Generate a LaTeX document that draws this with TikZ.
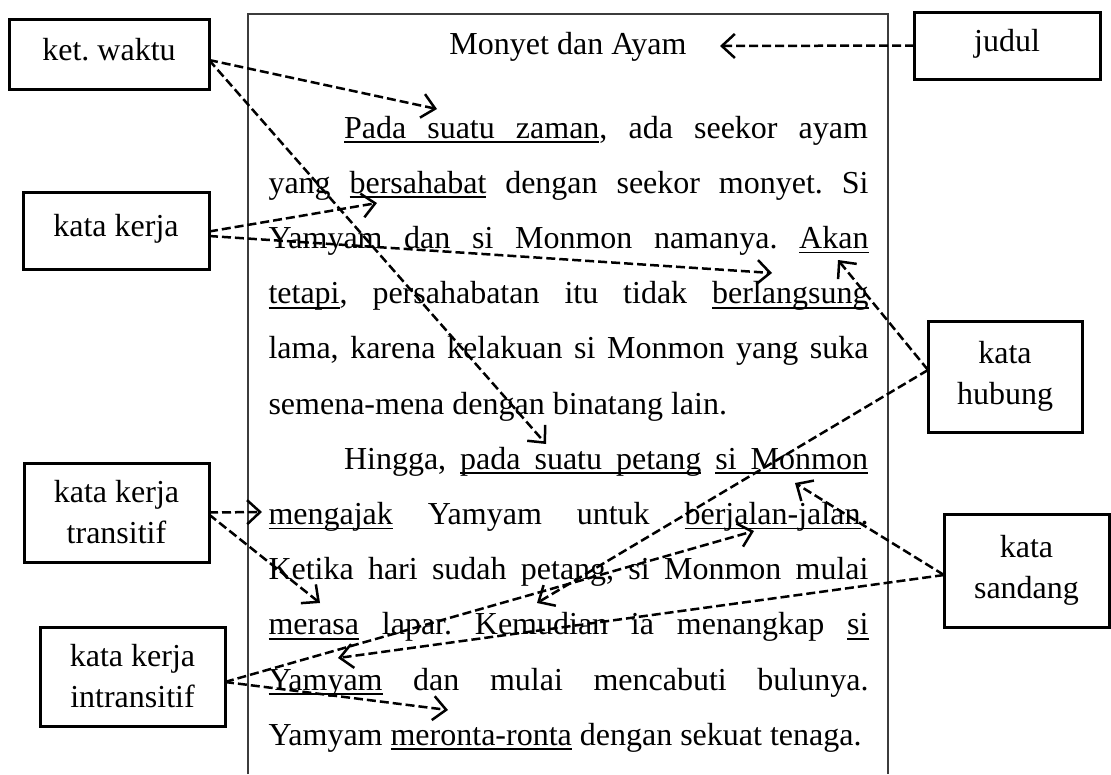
\documentclass[tikz,border=0pt]{standalone}
\usepackage{fontspec}
\setmainfont{Liberation Serif}
\usetikzlibrary{arrows.meta}
% underlined word, and an underlined stretchable space between such words
\newcommand{\ulw}[1]{\leavevmode\setbox0\hbox{#1}\rlap{\rule[-5pt]{\wd0}{1.9pt}}\box0\relax}
\newcommand{\uls}{\leaders\hrule height -3.1pt depth 5pt\hskip\fontdimen2\font plus\fontdimen3\font minus\fontdimen4\font\relax}
% one justified line of the story, stretched to the given width
\newcommand{\fillline}[2]{\makebox[#1][s]{#2}}
\definecolor{framegray}{RGB}{60,60,60}
\tikzset{
  x=1pt, y=-1pt,
  every node/.style={font=\fontsize{32}{41}\selectfont\frenchspacing},
  txtline/.style={anchor=base west, inner sep=0pt, outer sep=0pt},
  tagbox/.style={draw, line width=3pt, inner sep=0pt, outer sep=0pt, align=center},
  oneline/.style={text height=22pt, text depth=10pt},
  conn/.style={line width=2.5pt, dash pattern=on 9pt off 4pt,
    -{Straight Barb[length=13pt,width=24pt]}},
}
\begin{document}
\begin{tikzpicture}
\useasboundingbox (0,0) rectangle (1111,774);

% page frame around the story
\draw[framegray, line width=1.5pt] (248,774) -- (248,14) -- (888,14) -- (888,774);

% title and text of the story
\node[anchor=base, inner sep=0pt] (title) at (568,54) {Monyet dan Ayam};
\node[txtline] (l0) at (344,138.0) {\fillline{524pt}{\ulw{Pada}\uls\ulw{suatu}\uls\ulw{zaman}, ada seekor ayam}};
\node[txtline] (l1) at (268.5,193.2) {\fillline{600pt}{yang \ulw{bersahabat} dengan seekor monyet. Si}};
\node[txtline] (l2) at (268.5,248.4) {\fillline{600pt}{Yamyam dan si Monmon namanya. \ulw{Akan}}};
\node[txtline] (l3) at (268.5,303.6) {\fillline{600pt}{\ulw{tetapi}, persahabatan itu tidak \ulw{berlangsung}}};
\node[txtline] (l4) at (268.5,358.8) {\fillline{600pt}{lama, karena kelakuan si Monmon yang suka}};
\node[txtline] (l5) at (268.5,414.0) {semena-mena dengan binatang lain.};
\node[txtline] (l6) at (344,469.2) {\fillline{524pt}{Hingga, \ulw{pada}\uls\ulw{suatu}\uls\ulw{petang} \ulw{si}\uls\ulw{Monmon}}};
\node[txtline] (l7) at (268.5,524.4) {\fillline{600pt}{\ulw{mengajak} Yamyam untuk \ulw{berjalan-jalan}.}};
\node[txtline] (l8) at (268.5,579.6) {\fillline{600pt}{Ketika hari sudah petang, si Monmon mulai}};
\node[txtline] (l9) at (268.5,634.8) {\fillline{600pt}{\ulw{merasa} lapar. Kemudian ia menangkap \ulw{si}}};
\node[txtline] (l10) at (268.5,690.0) {\fillline{600pt}{\ulw{Yamyam} dan mulai mencabuti bulunya.}};
\node[txtline] (l11) at (268.5,745.2) {Yamyam \ulw{meronta-ronta} dengan sekuat tenaga.};

% category labels
\node[tagbox, oneline, minimum width=200pt, minimum height=70pt] (kw) at (109,54) {ket. waktu};
\node[tagbox, oneline, minimum width=186pt, minimum height=77pt] (kk) at (116,230.5) {kata kerja};
\node[tagbox, oneline, minimum width=186pt, minimum height=67pt] (jd) at (1007,45.5) {judul};
\node[tagbox, minimum width=154pt, minimum height=111pt] (kh) at (1005,376.5) {kata\\hubung};
\node[tagbox, minimum width=185pt, minimum height=99pt] (kkt) at (116.5,512.5) {kata kerja\\transitif};
\node[tagbox, minimum width=185pt, minimum height=99pt] (kki) at (132.5,676.5) {kata kerja\\intransitif};
\node[tagbox, minimum width=165pt, minimum height=113pt] (ks) at (1026.5,570.5) {kata\\sandang};

% arrow targets in the text
\coordinate (t1) at (437,109);
\coordinate (t2) at (546,444);
\coordinate (t3) at (377,203);
\coordinate (t4) at (772,273);
\coordinate (t5) at (720,46);
\coordinate (t6) at (838,260);
\coordinate (t7) at (537,603);
\coordinate (t8) at (795,483);
\coordinate (t9) at (338,658);
\coordinate (t10) at (262,512);
\coordinate (t11) at (320,603);
\coordinate (t12) at (754,531);
\coordinate (t13) at (448,710);

% connectors
\draw[conn] ([yshift=-6pt]kw.east) -- (t1);
\draw[conn] ([yshift=-6pt]kw.east) -- (t2);
\draw[conn] ([yshift=-1pt]kk.east) -- (t3);
\draw[conn] ([yshift=-5.5pt]kk.east) -- (t4);
\draw[conn] (jd.west) -- (t5);
\draw[conn] ([yshift=6.5pt]kh.west) -- (t6);
\draw[conn] ([yshift=6.5pt]kh.west) -- (t7);
\draw[conn] ([yshift=-4.5pt]ks.west) -- (t8);
\draw[conn] ([yshift=-4.5pt]ks.west) -- (t9);
\draw[conn] (kkt.east) -- (t10);
\draw[conn] ([yshift=-2pt]kkt.east) -- (t11);
\draw[conn] ([yshift=-5.5pt]kki.east) -- (t12);
\draw[conn] ([yshift=-5.5pt]kki.east) -- (t13);
\end{tikzpicture}
\end{document}
